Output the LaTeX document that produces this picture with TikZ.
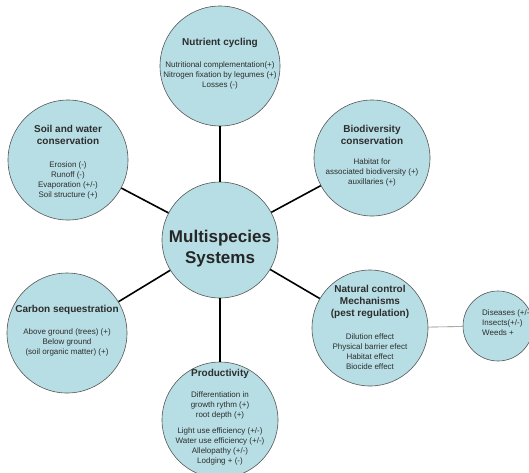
\documentclass[tikz,border=0pt]{standalone}
\usepackage{fontspec}
\setmainfont{Liberation Sans}
\definecolor{bubfill}{RGB}{183,222,228}
\definecolor{bubline}{RGB}{85,85,85}
\definecolor{ink}{RGB}{45,45,45}
\newcommand{\hd}[1]{{\fontsize{10}{12}\selectfont\bfseries #1}}

\begin{document}
\begin{tikzpicture}[x=1pt,y=-1pt,
  bub/.style={circle, draw=bubline, fill=bubfill, line width=0.6pt, minimum size=120pt, inner sep=0pt},
  txt/.style={align=center, text=ink, font=\fontsize{8}{10}\selectfont, inner sep=0pt},
  link/.style={line width=1.6pt},
  sublink/.style={line width=0.6pt, draw=gray}]
\useasboundingbox (0,0) rectangle (529,472);
\clip (0,0) rectangle (529,472);
\node[bub, minimum size=116pt] (hub) at (220,240) {};
\node[bub] (nut) at (220,66) {};
\node[bub] (soil) at (68,160) {};
\node[bub, minimum size=116pt] (bio) at (372,158) {};
\node[bub] (carb) at (67,333) {};
\node[bub, minimum size=116pt] (nat) at (370,328) {};
\node[bub, minimum size=70pt] (pest) at (498,326) {};
\node[bub, minimum size=116pt] (prod) at (220,420) {};
\draw[link] (hub) -- (nut);
\draw[link] (hub) -- (soil);
\draw[link] (hub) -- (bio);
\draw[link] (hub) -- (carb);
\draw[link] (hub) -- (nat);
\draw[link] (hub) -- (prod);
\draw[sublink] (nat) -- (pest);
\node[txt, text=black!85, font=\fontsize{17}{21}\selectfont\bfseries] (hubtxt) at (220,249) {Multispecies\\Systems};
\node[txt] (nuttxt) at (220,64) {\hd{Nutrient cycling}\\[12pt]Nutritional complementation(+)\\Nitrogen fixation by legumes (+)\\Losses (-)};
\node[txt] (soiltxt) at (68,162) {\hd{Soil and water}\\[2pt]\hd{conservation}\\[13pt]Erosion (-)\\Runoff (-)\\Evaporation (+/-)\\Soil structure (+)};
\node[txt] (biotxt) at (372,156) {\hd{Biodiversity}\\[2pt]\hd{conservation}\\[10pt]Habitat for\\associated biodiversity (+)\\auxillaries (+)};
\node[txt] (carbtxt) at (67,331) {\hd{Carbon sequestration}\\[12pt]Above ground (trees) (+)\\Below ground\\(soil organic matter) (+)};
\node[txt] (nattxt) at (370,327) {\hd{Natural control}\\[2pt]\hd{Mechanisms}\\[2pt]\hd{(pest regulation)}\\[13pt]Dilution effect\\Physical barrier efect\\Habitat effect\\Biocide effect};
\node[txt, align=left, anchor=west] (pesttxt) at (482,323) {Diseases (+/-)\\Insects(+/-)\\Weeds +};
\node[txt] (prodtxt) at (220,417) {\hd{Productivity}\\[11pt]Differentiation in\\growth rythm (+)\\root depth (+)\\[6pt]Light use efficiency (+/-)\\Water use efficiency (+/-)\\Allelopathy (+/-)\\Lodging + (-)};
\end{tikzpicture}
\end{document}
